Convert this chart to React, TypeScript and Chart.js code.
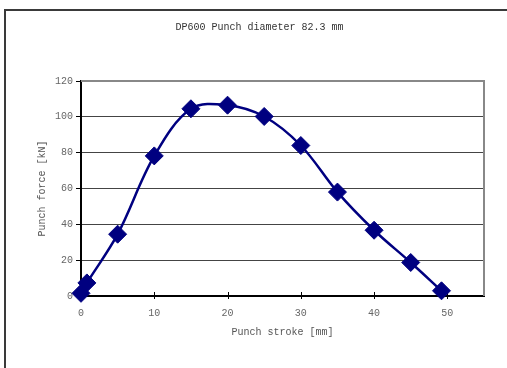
import React, { useEffect, useRef } from "react";
import { Chart, registerables } from "chart.js";

Chart.register(...registerables);

const chartTitle = "DP600 Punch diameter 82.3 mm";
const xTitle = "Punch stroke [mm]";
const yTitle = "Punch force [kN]";
const strokeMm = [0, 0.8, 5, 10, 15, 20, 25, 30, 35, 40, 45, 49.2];
const forceKN = [1.5, 7.3, 34.5, 78.2, 104.5, 106.5, 100.2, 84, 58, 36.7, 18.7, 2.9];
const xTicks = [0, 10, 20, 30, 40, 50];
const yTicks = [0, 20, 40, 60, 80, 100, 120];

const FONT = "'Liberation Mono', 'Courier New', monospace";

const framePlugin = {
  id: "frame",
  beforeDraw(chart: any) {
    const ctx = chart.ctx;
    ctx.save();
    ctx.strokeStyle = "#3a3a3a";
    ctx.lineWidth = 2;
    ctx.beginPath();
    ctx.moveTo(5, 400);
    ctx.lineTo(5, 10);
    ctx.lineTo(520, 10);
    ctx.stroke();
    ctx.restore();
  },
  beforeDatasetsDraw(chart: any) {
    const ctx = chart.ctx;
    const { left, right, top, bottom } = chart.chartArea;
    const xs = chart.scales.x;
    ctx.save();
    ctx.strokeStyle = "#888888";
    ctx.lineWidth = 2;
    ctx.beginPath();
    ctx.moveTo(left, top);
    ctx.lineTo(right, top);
    ctx.lineTo(right, bottom);
    ctx.stroke();
    ctx.strokeStyle = "#000000";
    ctx.lineWidth = 1;
    ctx.beginPath();
    for (const v of xTicks) {
      const px = Math.round(xs.getPixelForValue(v)) + 0.5;
      ctx.moveTo(px, bottom - 4);
      ctx.lineTo(px, bottom + 3);
    }
    ctx.stroke();
    ctx.restore();
  },
};

export default function App() {
  const ref = useRef<HTMLCanvasElement>(null);
  useEffect(() => {
    const canvas = ref.current;
    if (!canvas) return;
    const chart = new Chart(canvas, {
      type: "line",
      data: {
        datasets: [
          {
            data: strokeMm.map((x, i) => ({ x, y: forceKN[i] })),
            borderColor: "#000080",
            backgroundColor: "#000080",
            borderWidth: 2.5,
            tension: 0.35,
            clip: false,
            pointStyle: "rectRot",
            pointRadius: 9,
            pointBorderWidth: 1,
            pointBackgroundColor: "#000080",
            pointBorderColor: "#000080",
          },
        ],
      },
      options: {
        responsive: false,
        animation: false,
        devicePixelRatio: 1,
        layout: { padding: { left: 35, right: 23, top: 0, bottom: 0 } },
        plugins: {
          legend: { display: false },
          tooltip: { enabled: false },
          title: {
            display: true,
            text: chartTitle,
            color: "#333333",
            font: { family: FONT, size: 10, weight: "normal" },
            padding: { top: 21, bottom: 48 },
          },
        },
        scales: {
          x: {
            type: "linear",
            min: 0,
            max: 55,
            afterFit(scale: any) {
              scale.height = 72;
            },
            ticks: {
              stepSize: 10,
              includeBounds: false,
              color: "#666666",
              font: { family: FONT, size: 10 },
              padding: 3,
              maxRotation: 0,
            },
            grid: { display: false },
            border: { display: true, color: "#000000", width: 2 },
            title: {
              display: true,
              text: xTitle,
              color: "#555555",
              font: { family: FONT, size: 10 },
              padding: { top: 0, bottom: 30 },
            },
          },
          y: {
            type: "linear",
            min: 0,
            max: 120,
            afterFit(scale: any) {
              scale.width = 46;
            },
            ticks: {
              stepSize: 20,
              color: "#666666",
              font: { family: FONT, size: 10 },
              padding: 3,
            },
            grid: {
              display: true,
              drawTicks: true,
              tickLength: 5,
              tickColor: "#000000",
              lineWidth: 1,
              color: (c: any) =>
                c.tick && (c.tick.value === 0 || c.tick.value === 120)
                  ? "rgba(0,0,0,0)"
                  : "#444444",
            },
            border: { display: true, color: "#000000", width: 2 },
            title: {
              display: true,
              text: yTitle,
              color: "#555555",
              font: { family: FONT, size: 10 },
              padding: { top: 1, bottom: 0 },
            },
          },
        },
      },
      plugins: [framePlugin],
    } as any);
    return () => chart.destroy();
  }, []);
  return (
    <div style={{ position: "absolute", left: 0, top: 0, width: 507, height: 368 }}>
      <canvas ref={ref} width={507} height={368} />
    </div>
  );
}
